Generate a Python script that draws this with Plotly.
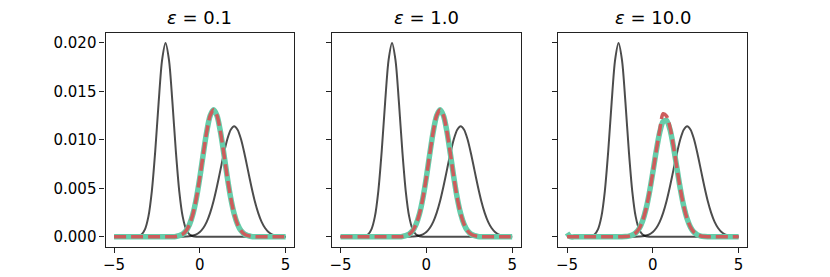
import plotly.graph_objects as go

# ---- data ----
X = [-5.0, -4.8, -4.6, -4.4, -4.2, -4.0, -3.8, -3.6, -3.4, -3.2,
     -3.0, -2.8, -2.6, -2.4, -2.2, -2.0, -1.8, -1.6, -1.4, -1.2,
     -1.0, -0.8, -0.6, -0.4, -0.2, 0.0, 0.2, 0.4, 0.6, 0.8,
     1.0, 1.2, 1.4, 1.6, 1.8, 2.0, 2.2, 2.4, 2.6, 2.8,
     3.0, 3.2, 3.4, 3.6, 3.8, 4.0, 4.2, 4.4, 4.6, 4.8, 5.0]

# narrow input distribution (peak near -2)
DIST_A = [0, 0, 0, 0, 0, 0, 0.00001, 0.00006, 0.00024, 0.00077,
          0.00208, 0.00470, 0.00886, 0.01392, 0.01826, 0.02000, 0.01826, 0.01392, 0.00886, 0.00470,
          0.00208, 0.00077, 0.00024, 0.00006, 0.00001, 0, 0, 0, 0, 0,
          0, 0, 0, 0, 0, 0, 0, 0, 0, 0,
          0, 0, 0, 0, 0, 0, 0, 0, 0, 0, 0]

# wide input distribution (peak near 2)
DIST_B = [0, 0, 0, 0, 0, 0, 0, 0, 0, 0,
          0, 0, 0, 0, 0, 0, 0, 0, 0, 0,
          0.00001, 0.00003, 0.00006, 0.00013, 0.00026, 0.00050, 0.00091, 0.00154, 0.00247, 0.00370,
          0.00522, 0.00691, 0.00860, 0.01006, 0.01105, 0.01140, 0.01105, 0.01006, 0.00860, 0.00691,
          0.00522, 0.00370, 0.00247, 0.00154, 0.00091, 0.00050, 0.00026, 0.00013, 0.00006, 0.00003, 0.00001]

# barycenters for eps = 0.1 and eps = 1.0 (both estimates coincide)
BARY_EPS_0_1 = [0, 0, 0, 0, 0, 0, 0, 0, 0, 0,
                0, 0, 0, 0, 0, 0, 0, 0.00001, 0.00004, 0.00012,
                0.00028, 0.00063, 0.00129, 0.00238, 0.00401, 0.00614, 0.00856, 0.01084, 0.01249, 0.01310,
                0.01249, 0.01084, 0.00856, 0.00614, 0.00401, 0.00238, 0.00129, 0.00063, 0.00028, 0.00012,
                0.00004, 0.00001, 0, 0, 0, 0, 0, 0, 0, 0, 0]
BARY_EPS_1_0 = [0, 0, 0, 0, 0, 0, 0, 0, 0, 0,
                0, 0, 0, 0, 0, 0, 0, 0.00001, 0.00004, 0.00012,
                0.00028, 0.00063, 0.00129, 0.00238, 0.00401, 0.00614, 0.00856, 0.01084, 0.01249, 0.01310,
                0.01249, 0.01084, 0.00856, 0.00614, 0.00401, 0.00238, 0.00129, 0.00063, 0.00028, 0.00012,
                0.00004, 0.00001, 0, 0, 0, 0, 0, 0, 0, 0, 0]

# eps = 10.0: the two estimates differ slightly
BARY_EPS_10_SOLID = [0.00040, 0, 0, 0, 0, 0, 0, 0, 0, 0,
                     0, 0, 0, 0, 0, 0, 0.00001, 0.00003, 0.00007, 0.00018,
                     0.00041, 0.00085, 0.00164, 0.00287, 0.00458, 0.00667, 0.00887, 0.01076, 0.01190, 0.01201,
                     0.01106, 0.00929, 0.00712, 0.00497, 0.00317, 0.00185, 0.00098, 0.00047, 0.00021, 0.00008,
                     0.00003, 0.00001, 0, 0, 0, 0, 0, 0, 0, 0, 0]
BARY_EPS_10_DASHED = [0, 0, 0, 0, 0, 0, 0, 0, 0, 0,
                      0, 0, 0, 0, 0, 0, 0.00001, 0.00003, 0.00007, 0.00018,
                      0.00041, 0.00085, 0.00164, 0.00287, 0.00458, 0.00667, 0.00887, 0.01100, 0.01270, 0.01245,
                      0.01130, 0.00935, 0.00712, 0.00497, 0.00317, 0.00185, 0.00098, 0.00047, 0.00021, 0.00008,
                      0.00003, 0.00001, 0, 0, 0, 0, 0, 0, 0, 0, 0]

TITLES = ["<i>ε</i> = 0.1", "<i>ε</i> = 1.0", "<i>ε</i> = 10.0"]
SOLID = [BARY_EPS_0_1, BARY_EPS_1_0, BARY_EPS_10_SOLID]
DASHED = [BARY_EPS_0_1, BARY_EPS_1_0, BARY_EPS_10_DASHED]

XTICKS = [-5, 0, 5]
XTICKTEXT = ["\u22125", "0", "5"]
YTICKS = [0.0, 0.005, 0.010, 0.015, 0.020]
YTICKTEXT = ["0.000", "0.005", "0.010", "0.015", "0.020"]

# ---- styling ----
FONT = "DejaVu Sans"
GRAY = "rgba(0,0,0,0.7)"
TURQ = "#66CDAA"
RED = "#CD5C5C"
AXCOL = "#222222"
DOMAINS = [[0.125, 0.3529], [0.3985, 0.6265], [0.6721, 0.9]]

fig = go.Figure()
for k in range(3):
    xa = "x" if k == 0 else f"x{k+1}"
    ya = "y" if k == 0 else f"y{k+1}"
    for ser in (DIST_A, DIST_B):
        fig.add_trace(go.Scatter(x=X, y=ser, xaxis=xa, yaxis=ya, mode="lines",
                                 line=dict(color=GRAY, width=2, shape="spline", smoothing=0.8),
                                 showlegend=False, hoverinfo="skip"))
    fig.add_trace(go.Scatter(x=X, y=SOLID[k], xaxis=xa, yaxis=ya, mode="lines",
                             line=dict(color=TURQ, width=5.5, shape="spline", smoothing=0.8),
                             showlegend=False, hoverinfo="skip"))
    fig.add_trace(go.Scatter(x=X, y=DASHED[k], xaxis=xa, yaxis=ya, mode="lines",
                             line=dict(color=RED, width=3.5, dash="12px,5px", shape="spline", smoothing=0.8),
                             showlegend=False, hoverinfo="skip"))

layout = dict(width=830, height=277, margin=dict(l=0, r=0, t=0, b=0),
              paper_bgcolor="white", plot_bgcolor="white", showlegend=False,
              font=dict(family=FONT, size=15, color="black"))
annotations = []
for k in range(3):
    sx = "" if k == 0 else str(k + 1)
    layout["xaxis" + sx] = dict(domain=DOMAINS[k], range=[-5.5, 5.5], anchor="y" + sx,
                                tickvals=XTICKS, ticktext=XTICKTEXT, ticks="outside",
                                ticklen=5, tickwidth=1.1, tickcolor=AXCOL,
                                showline=True, linecolor=AXCOL, linewidth=1.1, mirror=True,
                                showgrid=False, zeroline=False, ticklabelstandoff=-1,
                                tickfont=dict(family=FONT, size=15, color="black"))
    layout["yaxis" + sx] = dict(domain=[0.11, 0.88], range=[-0.001, 0.021], anchor="x" + sx,
                                tickvals=YTICKS, ticktext=YTICKTEXT, ticks="outside",
                                ticklen=5, tickwidth=1.1, tickcolor=AXCOL,
                                showline=True, linecolor=AXCOL, linewidth=1.1, mirror=True,
                                showgrid=False, zeroline=False, showticklabels=(k == 0),
                                tickfont=dict(family=FONT, size=15, color="black"))
    annotations.append(dict(text=TITLES[k], x=(DOMAINS[k][0] + DOMAINS[k][1]) / 2, y=0.89,
                            xref="paper", yref="paper", xanchor="center", yanchor="bottom",
                            showarrow=False, font=dict(family=FONT, size=18, color="black")))
layout["annotations"] = annotations
fig.update_layout(**layout)
fig.write_html("out.html", config={"displayModeBar": False},
               post_script="document.body.style.margin='0';document.body.style.overflow='hidden';")
